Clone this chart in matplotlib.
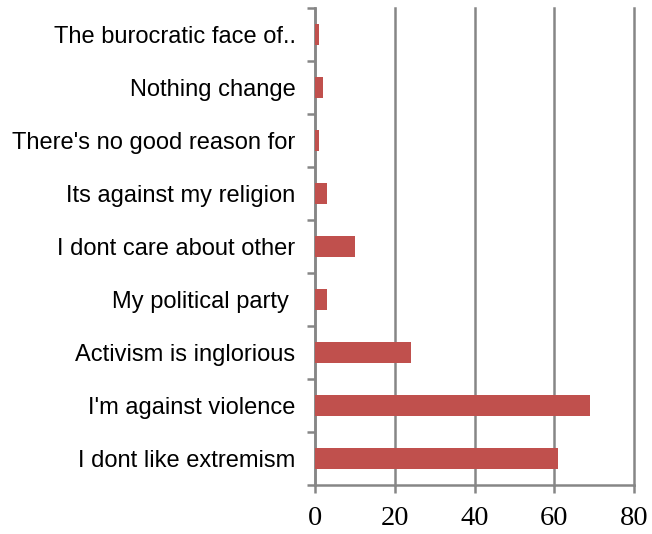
import numpy as np
import matplotlib.pyplot as plt

# Reasons given, bottom to top
reasons = [
    "I dont like extremism",
    "I'm against violence",
    "Activism is inglorious",
    "My political party ",
    "I dont care about other",
    "Its against my religion",
    "There's no good reason for",
    "Nothing change",
    "The burocratic face of..",
]
counts = [61, 69, 24, 3, 10, 3, 1, 2, 1]
xticks = [0, 20, 40, 60, 80]

GRID = '#868686'
BAR = '#C0504D'

fig = plt.figure(figsize=(6.52, 5.34), dpi=100)
ax = fig.add_axes([315 / 652, 1 - 485 / 534, (634 - 315) / 652, (485 - 8) / 534])

y = np.arange(len(reasons))
ax.barh(y, counts, height=0.4, color=BAR, zorder=3)

ax.set_xlim(0, 80)
ax.set_ylim(-0.5, len(reasons) - 0.5)
ax.set_xticks(xticks)
ax.set_xticklabels([str(v) for v in xticks], family='Liberation Serif', fontsize=20.5)
ax.xaxis.grid(True, color=GRID, linewidth=1.8, zorder=0)
for gl in ax.get_xgridlines():
    gl.set_clip_on(False)
ax.tick_params(axis='x', length=6, width=1.8, color=GRID, pad=9)

ax.set_yticks(y)
ax.set_yticklabels(reasons, family='Liberation Sans', fontsize=17)
ax.set_yticks(np.arange(len(reasons) + 1) - 0.5, minor=True)
ax.tick_params(axis='y', which='major', length=0, pad=14)
ax.tick_params(axis='y', which='minor', length=6, width=1.8, color=GRID)

for side in ('top', 'right'):
    ax.spines[side].set_visible(False)
for side in ('left', 'bottom'):
    ax.spines[side].set_color(GRID)
    ax.spines[side].set_linewidth(1.8)

fig.savefig('out.png', dpi=100)
